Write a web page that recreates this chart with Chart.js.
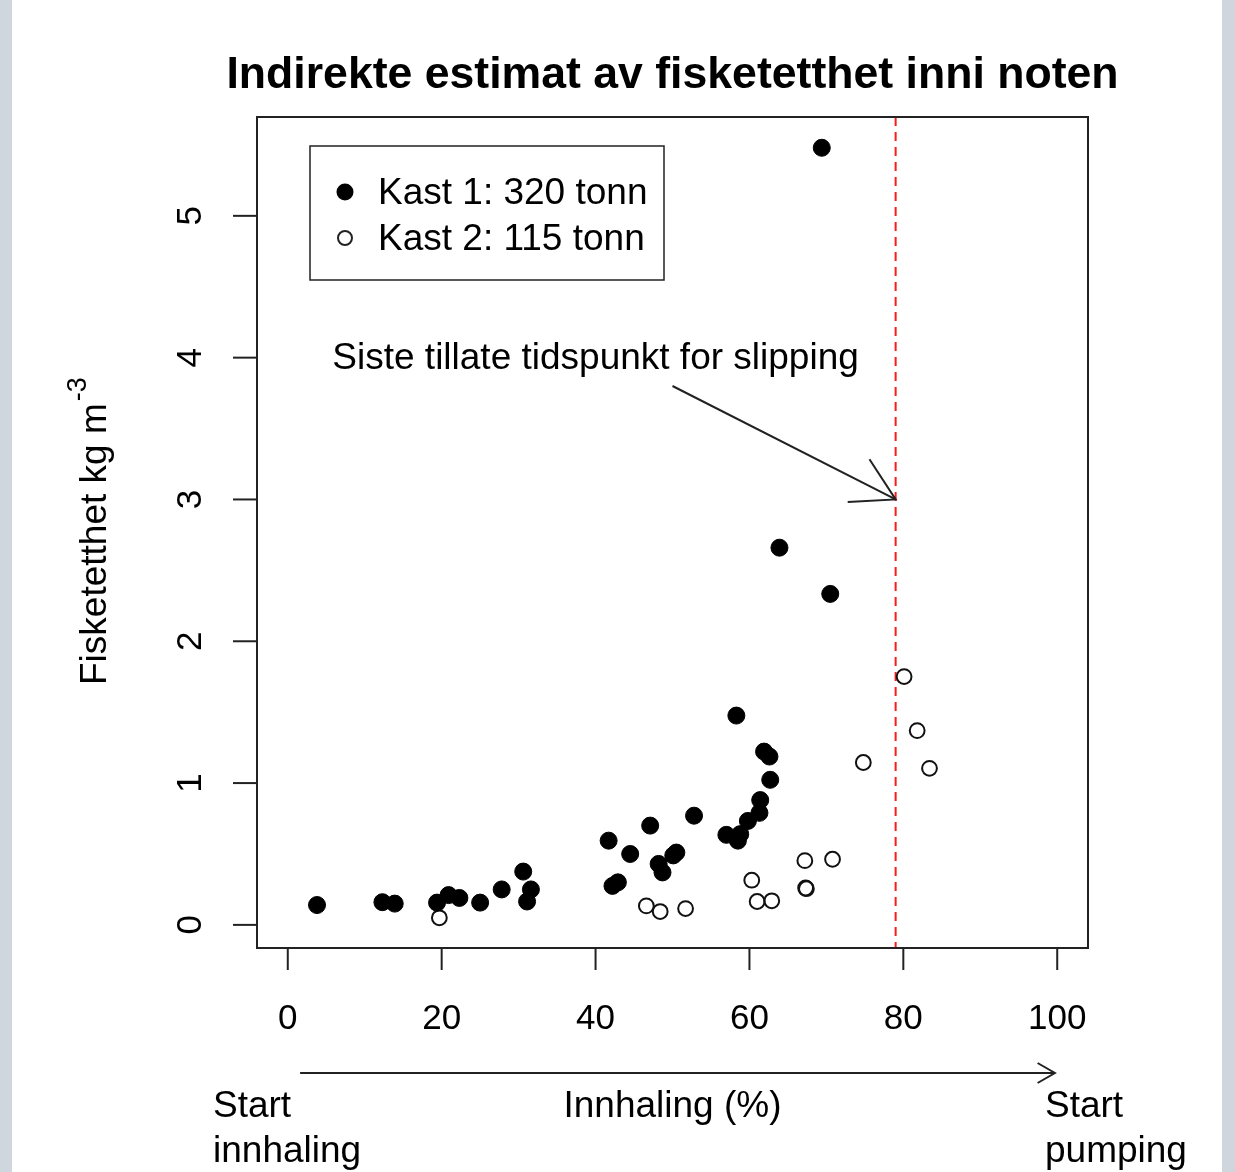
<!DOCTYPE html>
<html>
<head>
<meta charset="utf-8">
<script src="https://cdn.jsdelivr.net/npm/chart.js@4.4.0/dist/chart.umd.min.js"></script>
<style>
html, body { margin: 0; padding: 0; background: #cfd6de; }
#wrap { width: 1235px; height: 1172px; }
</style>
</head>
<body>
<div id="wrap"><canvas id="scatterChart" width="1235" height="1172"></canvas></div>
<script>
// Kast 1 (filled points)
var kast1X = [3.8, 12.3, 13.9, 19.4, 20.9, 22.3, 25.0, 27.8, 30.6, 31.6, 31.1,
    41.7, 42.2, 42.9, 44.5, 47.1, 48.2, 48.7, 50.1, 50.5, 52.8,
    57.0, 58.5, 58.8, 59.8, 61.3, 61.4, 62.7, 61.9, 62.6, 58.3, 63.9, 70.5, 69.4];
var kast1Y = [0.14, 0.16, 0.15, 0.157, 0.21, 0.19, 0.157, 0.25, 0.376, 0.25, 0.165,
    0.594, 0.275, 0.30, 0.50, 0.70, 0.43, 0.37, 0.49, 0.51, 0.77,
    0.635, 0.594, 0.64, 0.733, 0.79, 0.88, 1.023, 1.222, 1.187, 1.476, 2.66, 2.334, 5.48];
// Kast 2 (open points)
var kast2X = [19.7, 46.6, 48.4, 51.7, 60.3, 61.0, 62.9, 67.2, 67.3, 67.4, 70.8, 74.8, 80.1, 81.8, 83.4];
var kast2Y = [0.05, 0.134, 0.094, 0.115, 0.315, 0.165, 0.17, 0.453, 0.26, 0.255, 0.463, 1.145, 1.751, 1.37, 1.104];

var seriesLabels = ["Kast 1: 320 tonn", "Kast 2: 115 tonn"];
var xTicks = [0, 20, 40, 60, 80, 100];
var yTicks = [0, 1, 2, 3, 4, 5];
var slipLimit = 79;

var FONT = '"Liberation Sans", Arial, sans-serif';

function toPoints(xs, ys) {
    var pts = [];
    for (var i = 0; i < xs.length; i++) pts.push({x: xs[i], y: ys[i]});
    return pts;
}

function arrowHead(ctx, x0, y0, x1, y1, len) {
    var ang = Math.atan2(y0 - y1, x0 - x1);
    var a = Math.PI / 6;
    ctx.beginPath();
    ctx.moveTo(x1 + len * Math.cos(ang + a), y1 + len * Math.sin(ang + a));
    ctx.lineTo(x1, y1);
    ctx.lineTo(x1 + len * Math.cos(ang - a), y1 + len * Math.sin(ang - a));
    ctx.stroke();
}

var rStyle = {
    id: 'rStyle',
    beforeDraw: function(chart) {
        var ctx = chart.ctx;
        ctx.save();
        ctx.fillStyle = '#cfd6de';
        ctx.fillRect(0, 0, chart.width, chart.height);
        ctx.fillStyle = '#ffffff';
        ctx.fillRect(12, 0, 1210, chart.height);
        ctx.restore();
    },
    beforeDatasetsDraw: function(chart) {
        var ctx = chart.ctx, a = chart.chartArea;
        var px = chart.scales.x.getPixelForValue(slipLimit);
        ctx.save();
        ctx.strokeStyle = '#ff1a1a';
        ctx.lineWidth = 2;
        ctx.setLineDash([9, 6]);
        ctx.beginPath();
        ctx.moveTo(px, a.top);
        ctx.lineTo(px, a.bottom);
        ctx.stroke();
        ctx.restore();
    },
    afterDraw: function(chart) {
        var ctx = chart.ctx, a = chart.chartArea;
        var xs = chart.scales.x, ys = chart.scales.y;
        ctx.save();
        ctx.strokeStyle = '#222';
        ctx.fillStyle = '#000';
        ctx.lineWidth = 2;

        // box
        ctx.strokeRect(a.left, a.top, a.right - a.left, a.bottom - a.top);

        // x axis
        ctx.font = '35px ' + FONT;
        ctx.textAlign = 'center';
        ctx.textBaseline = 'middle';
        xTicks.forEach(function(v) {
            var px = xs.getPixelForValue(v);
            ctx.beginPath();
            ctx.moveTo(px, a.bottom);
            ctx.lineTo(px, a.bottom + 22);
            ctx.stroke();
            ctx.fillText(String(v), px, 1019);
        });

        // y axis
        yTicks.forEach(function(v) {
            var py = ys.getPixelForValue(v);
            ctx.beginPath();
            ctx.moveTo(a.left - 24, py);
            ctx.lineTo(a.left, py);
            ctx.stroke();
            ctx.save();
            ctx.translate(191, py);
            ctx.rotate(-Math.PI / 2);
            ctx.fillText(String(v), 0, 0);
            ctx.restore();
        });

        // title
        ctx.font = 'bold 44.6px ' + FONT;
        ctx.fillText('Indirekte estimat av fisketetthet inni noten', (a.left + a.right) / 2, 76);

        // y label
        ctx.save();
        ctx.translate(96, 685);
        ctx.rotate(-Math.PI / 2);
        ctx.textAlign = 'left';
        ctx.font = '37px ' + FONT;
        ctx.fillText('Fisketetthet kg m', 0, 0);
        var w = ctx.measureText('Fisketetthet kg m').width;
        ctx.font = '27px ' + FONT;
        ctx.fillText('-3', w + 2, -17);
        ctx.restore();

        // legend
        var lx = a.left + 53, ly = a.top + 29;
        ctx.lineWidth = 1.5;
        ctx.strokeRect(lx, ly, 354, 134);
        ctx.font = '37px ' + FONT;
        ctx.textAlign = 'left';
        chart.data.datasets.forEach(function(ds, i) {
            var cy = ly + 46 + i * 46;
            ctx.beginPath();
            if (i === 0) {
                ctx.arc(lx + 35, cy, 8.5, 0, Math.PI * 2);
                ctx.fill();
            } else {
                ctx.lineWidth = 2;
                ctx.arc(lx + 35, cy, 7, 0, Math.PI * 2);
                ctx.stroke();
            }
            ctx.fillText(ds.label, lx + 68, cy + 2);
        });

        // annotation
        ctx.textAlign = 'center';
        ctx.fillText('Siste tillate tidspunkt for slipping', xs.getPixelForValue(40), ys.getPixelForValue(4.0) + 1);
        var x0 = xs.getPixelForValue(50), y0 = ys.getPixelForValue(3.8);
        var x1 = xs.getPixelForValue(slipLimit), y1 = ys.getPixelForValue(3.0);
        ctx.lineWidth = 2;
        ctx.beginPath();
        ctx.moveTo(x0, y0);
        ctx.lineTo(x1, y1);
        ctx.stroke();
        arrowHead(ctx, x0, y0, x1, y1, 48);

        // bottom arrow and texts
        var bx0 = xs.getPixelForValue(1.6), bx1 = xs.getPixelForValue(99.7), by = 1073;
        ctx.beginPath();
        ctx.moveTo(bx0, by);
        ctx.lineTo(bx1, by);
        ctx.stroke();
        arrowHead(ctx, bx0, by, bx1, by, 20);

        ctx.font = '37px ' + FONT;
        ctx.fillText('Innhaling (%)', (a.left + a.right) / 2, 1107);
        ctx.textAlign = 'left';
        ctx.fillText('Start', 213, 1107);
        ctx.fillText('innhaling', 213, 1152);
        ctx.fillText('Start', 1045, 1107);
        ctx.fillText('pumping', 1045, 1152);
        ctx.restore();
    }
};

var ctxScatter = document.getElementById("scatterChart");
var myScatter = new Chart(ctxScatter, {
    type: 'scatter',
    data: {
        datasets: [{
            label: seriesLabels[0],
            data: toPoints(kast1X, kast1Y),
            pointRadius: 8.5,
            pointBorderWidth: 1,
            pointBackgroundColor: '#000',
            pointBorderColor: '#000'
        }, {
            label: seriesLabels[1],
            data: toPoints(kast2X, kast2Y),
            pointRadius: 7.4,
            pointBorderWidth: 2,
            pointBackgroundColor: 'rgba(0,0,0,0)',
            pointBorderColor: '#111'
        }]
    },
    options: {
        responsive: false,
        animation: false,
        devicePixelRatio: 1,
        layout: { padding: { left: 257, right: 147, top: 117, bottom: 224 } },
        plugins: { legend: { display: false }, tooltip: { enabled: false } },
        scales: {
            x: { type: 'linear', min: -4, max: 104, display: false },
            y: { type: 'linear', min: -0.163, max: 5.697, display: false }
        }
    },
    plugins: [rStyle]
});
</script>
</body>
</html>
